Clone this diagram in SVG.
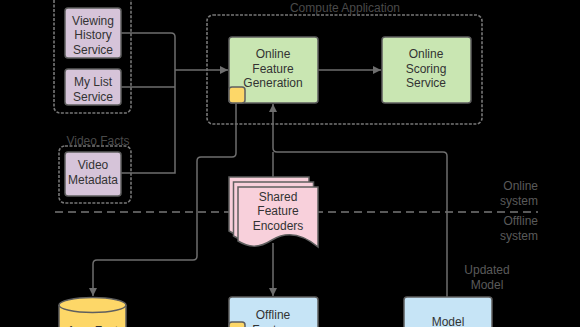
<svg xmlns="http://www.w3.org/2000/svg" width="580" height="327" viewBox="0 0 580 327">
<style>
text{font-family:"Liberation Sans",Arial,sans-serif;font-size:12px;text-anchor:middle;dominant-baseline:central}
.nt{fill:#333}
.lbl{fill:#4a4a4a}
.sys{fill:#5a5a5a;text-anchor:end}
.box{stroke:#5f5f5f;stroke-width:1.5}
.purple{fill:#d6c4d9}
.green{fill:#c9e6b2}
.blue{fill:#c6e4f6}
.yellow{fill:#fdd768}
.pink{fill:#f8d0db}
.grp{fill:none;stroke:#777;stroke-width:1.6;stroke-dasharray:3 1.5}
.conn path{fill:none;stroke:#6e6e6e;stroke-width:1.5}
</style>
<defs>
<marker id="ah" viewBox="0 0 10 10" refX="10" refY="5" markerWidth="8" markerHeight="8" markerUnits="userSpaceOnUse" orient="auto">
<path d="M0,0 L10,5 L0,10 Z" fill="#6e6e6e"/>
</marker>
</defs>
<rect width="580" height="327" fill="#000"/>

<g id="groups">
<rect class="grp" x="54" y="-20" width="77" height="133" rx="6"/>
<rect class="grp" x="59" y="146" width="72" height="57" rx="6"/>
<text class="lbl" x="98" y="141">Video Facts</text>
<rect class="grp" x="207" y="15" width="275" height="109" rx="6"/>
<text class="lbl" x="345" y="8">Compute Application</text>
</g>

<g id="divider">
<path d="M55,212 H538" stroke="#777" stroke-width="1.5" stroke-dasharray="8 5" fill="none"/>
<text class="sys" x="538" y="186">Online</text>
<text class="sys" x="538" y="201">system</text>
<text class="sys" x="538" y="221">Offline</text>
<text class="sys" x="538" y="236">system</text>
</g>

<g class="conn" id="connectors">
<path d="M121,33 H171 Q175,33 175,37 V173 Q175,173 171,173 H121"/>
<path d="M121,87 H175"/>
<path d="M175,70 H228" marker-end="url(#ah)"/>
<path d="M318,70 H381" marker-end="url(#ah)"/>
<path d="M236,103 V153 Q236,157 232,157 H201 Q197,157 197,161 V256 Q197,260 193,260 H97 Q93,260 93,264 V296" marker-end="url(#ah)"/>
<path d="M447,297 V156 Q447,152 443,152 H277 Q273,152 273,148 V104" marker-end="url(#ah)"/>
<path d="M273,177 V152"/>
<path d="M273,243 V296" marker-end="url(#ah)"/>
<text class="sys" x="487" y="270" style="text-anchor:middle">Updated</text>
<text class="sys" x="487" y="285" style="text-anchor:middle">Model</text>
</g>

<g id="viewing-history">
<rect class="box purple" x="65" y="8" width="56" height="50" rx="3"/>
<text class="nt" x="93" y="21">Viewing</text>
<text class="nt" x="93" y="35">History</text>
<text class="nt" x="93" y="50">Service</text>
</g>

<g id="my-list">
<rect class="box purple" x="65" y="69" width="56" height="36" rx="3"/>
<text class="nt" x="93" y="82">My List</text>
<text class="nt" x="93" y="97">Service</text>
</g>

<g id="video-metadata">
<rect class="box purple" x="65" y="152" width="56" height="44" rx="3"/>
<text class="nt" x="93" y="165">Video</text>
<text class="nt" x="93" y="180">Metadata</text>
</g>

<g id="online-feature-generation">
<rect class="box green" x="229" y="37" width="89" height="66" rx="3"/>
<text class="nt" x="273" y="54">Online</text>
<text class="nt" x="273" y="69">Feature</text>
<text class="nt" x="273" y="83">Generation</text>
<rect class="box yellow" x="229" y="87" width="16" height="16" rx="3"/>
</g>

<g id="online-scoring-service">
<rect class="box green" x="382" y="37" width="89" height="66" rx="3"/>
<text class="nt" x="426" y="54">Online</text>
<text class="nt" x="426" y="69">Scoring</text>
<text class="nt" x="426" y="83">Service</text>
</g>

<g id="shared-feature-encoders">
<path class="box pink" d="M229,177 H309 V237 C291,222 276,222 263,230 C249,239 239,237 229,231 Z"/>
<path class="box pink" d="M233.5,182 H313.5 V242 C295.5,227 280.5,227 267.5,235 C253.5,244 243.5,242 233.5,236 Z"/>
<path class="box pink" d="M238,187 H318 V247 C300,232 285,232 272,240 C258,249 248,247 238,241 Z"/>
<text class="nt" x="278" y="197">Shared</text>
<text class="nt" x="278" y="211">Feature</text>
<text class="nt" x="278" y="226">Encoders</text>
</g>

<g id="offline-feature-generation">
<rect class="box blue" x="229" y="297" width="89" height="66" rx="3"/>
<text class="nt" x="273" y="315">Offline</text>
<text class="nt" x="273" y="330">Feature</text>
<rect class="box yellow" x="229" y="322" width="16" height="16" rx="3"/>
</g>

<g id="model">
<rect class="box blue" x="404" y="297" width="88" height="66" rx="3"/>
<text class="nt" x="448" y="322">Model</text>
</g>

<g id="avro-fact-store">
<path class="box yellow" d="M59,305 V360 H126 V305"/>
<ellipse class="box yellow" cx="92.5" cy="305" rx="33.5" ry="7.5"/>
<text class="nt" x="92.5" y="331">Avro Fact</text>
</g>
</svg>
